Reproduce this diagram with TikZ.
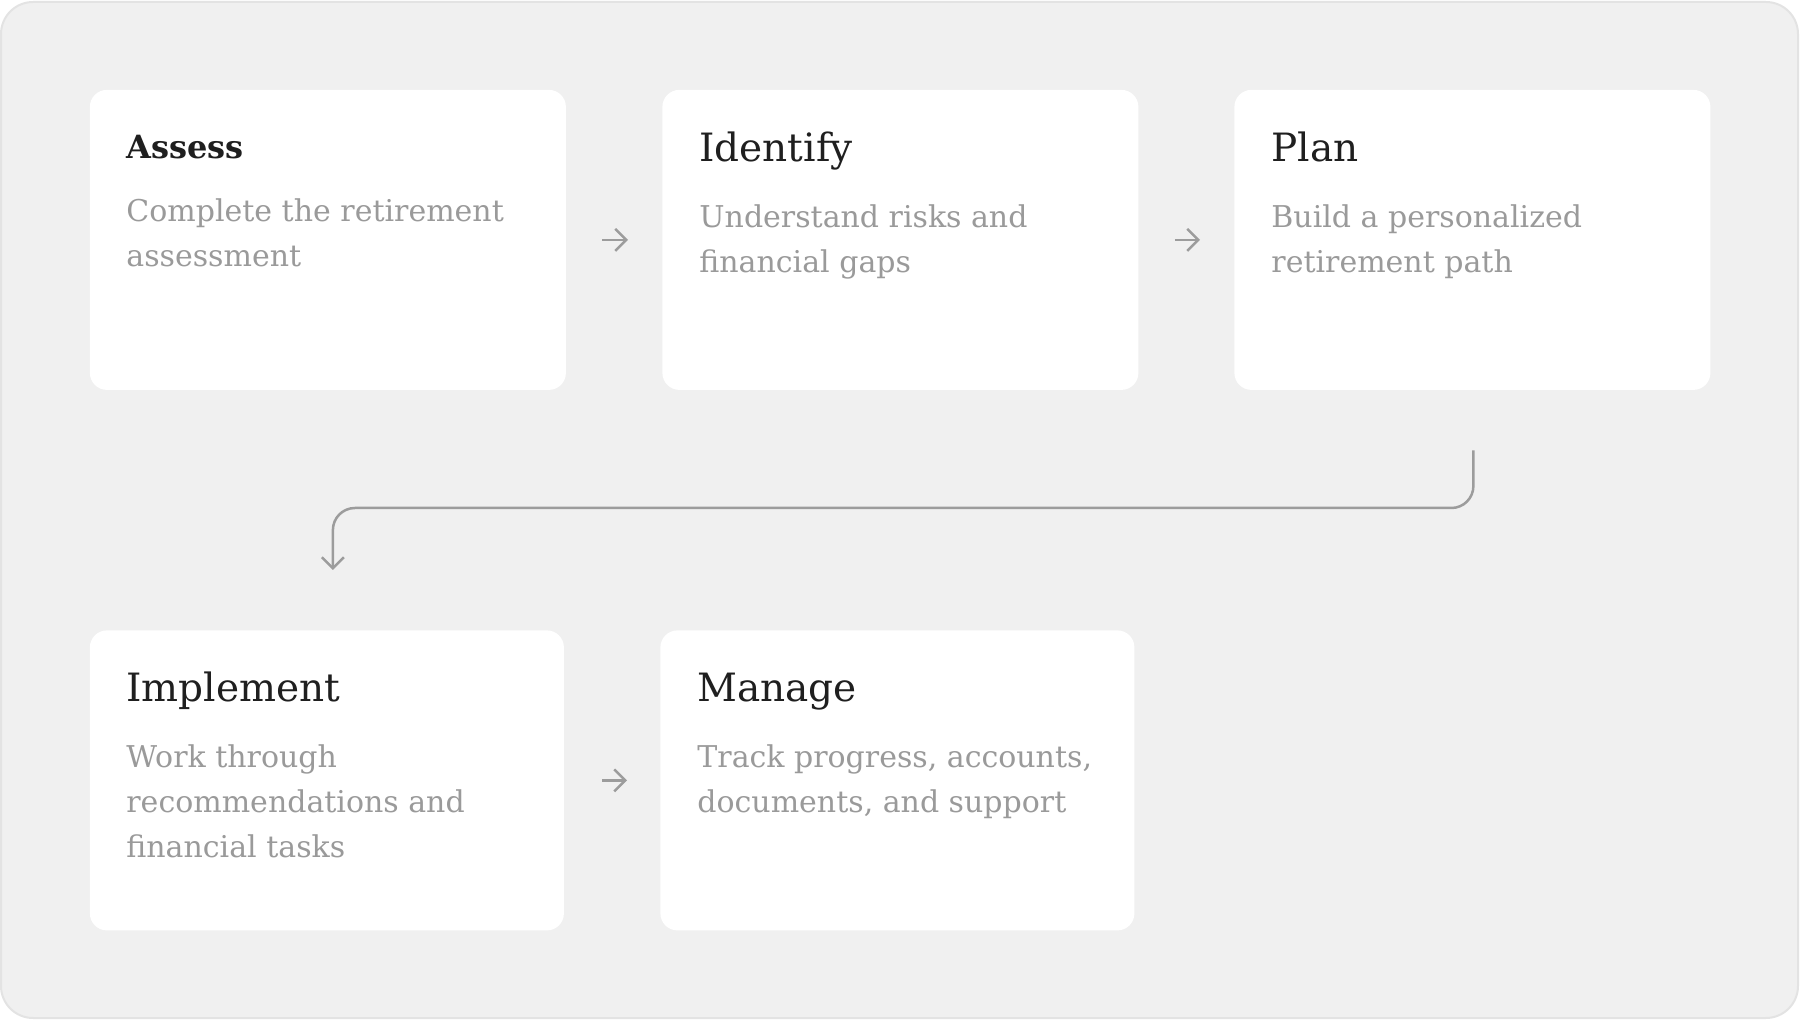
\documentclass[tikz,border=0pt]{standalone}
\usepackage{fontspec}
\setmainfont{DejaVu Serif}
\usetikzlibrary{arrows.meta,calc}
\definecolor{bgfill}{HTML}{F0F0F0}
\definecolor{bordercol}{HTML}{E3E3E3}
\definecolor{titlecol}{HTML}{1F1F1F}
\definecolor{bodycol}{HTML}{9A9A9A}
\definecolor{arrowcol}{HTML}{9C9C9C}
\begin{document}
\begin{tikzpicture}[x=0.5pt,y=-0.5pt,
  card/.style={fill=white, rounded corners=8.5pt, minimum width=238pt, minimum height=150pt, inner sep=0pt, anchor=north west},
  ttl/.style={anchor=base west, inner sep=0pt, text=titlecol, font=\fontsize{19.5}{24}\selectfont},
  ttlb/.style={anchor=base west, inner sep=0pt, text=titlecol, font=\fontsize{16}{20}\selectfont\bfseries},
  body/.style={anchor=base west, inner sep=0pt, text=bodycol, font=\fontsize{15}{20}\selectfont},
  flow/.style={draw=arrowcol, line width=1.25pt, -{Straight Barb[length=5.5pt,width=11pt]}}
]
\useasboundingbox (0,0) rectangle (1800,1020);
\path[draw=bordercol, fill=bgfill, line width=1pt, rounded corners=16pt] (1,2) rectangle (1798,1018);

\node[card] (c1) at (89.5,89.5) {};
\node[card] (c2) at (662,89.5) {};
\node[card] (c3) at (1234,89.5) {};
\node[card, minimum width=237pt] (c4) at (89.5,630) {};
\node[card, minimum width=237pt] (c5) at (660,630) {};

\node[ttlb] (t1) at (126,159) {Assess};
\node[body] (b1a) at (126,222) {Complete the retirement};
\node[body] (b1b) at (126,267) {assessment};

\node[ttl] (t2) at (699,162) {Identify};
\node[body] (b2a) at (699,228) {Understand risks and};
\node[body] (b2b) at (699,273) {financial gaps};

\node[ttl] (t3) at (1271,162) {Plan};
\node[body] (b3a) at (1271,228) {Build a personalized};
\node[body] (b3b) at (1271,273) {retirement path};

\node[ttl] (t4) at (126,702) {Implement};
\node[body] (b4a) at (126,768) {Work through};
\node[body] (b4b) at (126,813) {recommendations and};
\node[body] (b4c) at (126,858) {financial tasks};

\node[ttl] (t5) at (697,702) {Manage};
\node[body] (b5a) at (697,768) {Track progress, accounts,};
\node[body] (b5b) at (697,813) {documents, and support};

\draw[flow, shorten <=18pt, shorten >=17pt] (c1.east) -- (c2.west);
\draw[flow, shorten <=18pt, shorten >=17pt] (c2.east) -- (c3.west);
\draw[flow, shorten <=19pt, shorten >=16.5pt] (c4.east) -- (c5.west);

\coordinate (s) at ($(c3.south)+(1,60)$);
\coordinate (m) at (900,508);
\coordinate (e) at ($(c4.north)+(6,-60)$);
\draw[flow, rounded corners=11pt] (s) |- (m) -| (e);
\end{tikzpicture}
\end{document}
